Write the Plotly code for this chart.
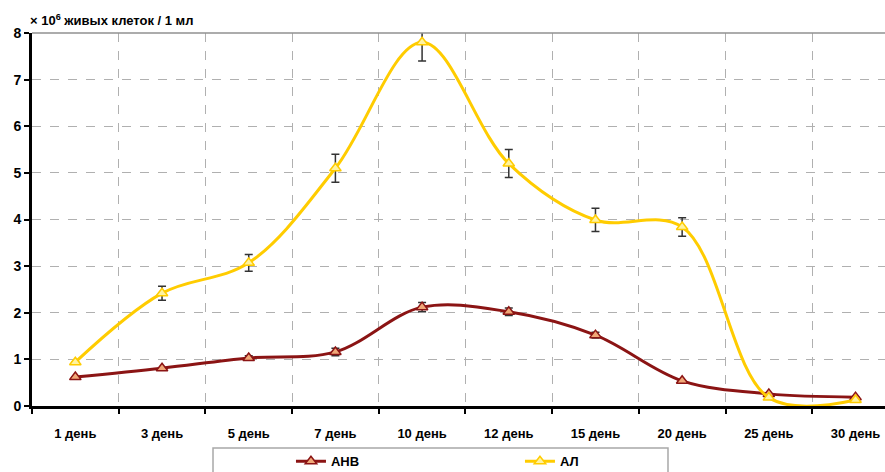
import plotly.graph_objects as go

days = ["1 день", "3 день", "5 день", "7 день", "10 день", "12 день", "15 день", "20 день", "25 день", "30 день"]
anv = [0.62, 0.81, 1.03, 1.16, 2.12, 2.02, 1.52, 0.54, 0.26, 0.19]
anv_err = [0.0, 0.0, 0.05, 0.08, 0.1, 0.08, 0.06, 0.0, 0.0, 0.0]
al = [0.94, 2.42, 3.07, 5.1, 7.8, 5.2, 3.99, 3.84, 0.18, 0.13]
al_err = [0.0, 0.15, 0.18, 0.3, 0.4, 0.3, 0.25, 0.2, 0.0, 0.0]

font_family = "Liberation Sans, Arial, sans-serif"

fig = go.Figure()
fig.add_trace(go.Scatter(
    x=days, y=anv, name="АНВ", mode="lines+markers",
    line=dict(color="#8B1414", width=3, shape="spline", smoothing=1),
    marker=dict(symbol="triangle-up", size=10, color="#F0A878",
                line=dict(color="#8B1414", width=1.5)),
    error_y=dict(type="data", array=anv_err, color="#333333", thickness=1.5, width=4),
    cliponaxis=False,
))
fig.add_trace(go.Scatter(
    x=days, y=al, name="АЛ", mode="lines+markers",
    line=dict(color="#FFCC00", width=3, shape="spline", smoothing=1),
    marker=dict(symbol="triangle-up", size=10, color="#FFF3A0",
                line=dict(color="#FFCC00", width=1.5)),
    error_y=dict(type="data", array=al_err, color="#333333", thickness=1.5, width=4),
    cliponaxis=False,
))

fig.update_layout(
    width=885, height=472,
    margin=dict(l=32, r=0, t=33, b=66, autoexpand=False),
    paper_bgcolor="white", plot_bgcolor="white",
    font=dict(family=font_family, color="black"),
    showlegend=True,
    legend=dict(
        orientation="h", x=0.3036, xanchor="left", y=-0.108, yanchor="top",
        bgcolor="rgba(0,0,0,0)", borderwidth=0,
        font=dict(size=13, weight=700, family=font_family),
        entrywidth=184, itemwidth=30,
    ),
    annotations=[dict(
        text="× 10<sup>6</sup> живых клеток / 1 мл", xref="paper", yref="paper",
        x=-0.005, y=1, xanchor="left", yanchor="bottom", yshift=3, showarrow=False,
        font=dict(size=13, weight=700, family=font_family),
    )],
    shapes=[
        dict(type="line", xref="paper", yref="paper", x0=0, x1=1, y0=1, y1=1,
             line=dict(color="#909090", width=1.5)),
        dict(type="rect", xref="paper", yref="paper", x0=0.2122, x1=0.7456,
             y0=-0.2, y1=-0.1126, line=dict(color="#A8A8A8", width=1.5),
             fillcolor="rgba(0,0,0,0)", layer="below"),
    ],
)
fig.update_xaxes(
    type="category", range=[-0.5, 9.34], tickson="boundaries", automargin=False,
    showgrid=True, gridcolor="#B0B0B0", griddash="dash", gridwidth=1,
    showline=True, linecolor="black", linewidth=2.5, mirror=False,
    ticks="outside", ticklen=5, tickcolor="black", tickwidth=2,
    ticklabelstandoff=14,
    tickfont=dict(size=13, weight=700), zeroline=False,
)
fig.update_yaxes(
    range=[0, 8], dtick=1, automargin=False,
    showgrid=True, gridcolor="#B0B0B0", griddash="dash", gridwidth=1,
    showline=True, linecolor="black", linewidth=3,
    ticks="outside", ticklen=5, tickcolor="black", tickwidth=2,
    tickfont=dict(size=14, weight=700), zeroline=False,
)

fig.write_html(
    "out.html",
    config={"displayModeBar": False},
    post_script="document.body.style.margin='0';document.body.style.overflow='hidden';",
)
